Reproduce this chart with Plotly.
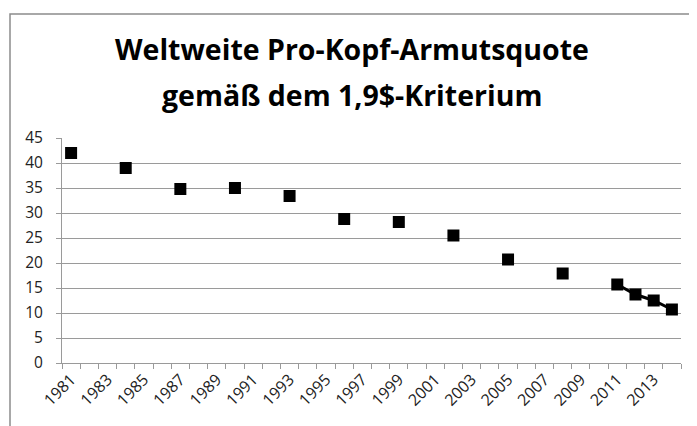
import plotly.graph_objects as go

years = list(range(1981, 2015))
data_years = [1981, 1984, 1987, 1990, 1993, 1996, 1999, 2002, 2005, 2008, 2011, 2012, 2013, 2014]
data_vals = [42.0, 39.0, 34.8, 35.0, 33.4, 28.8, 28.2, 25.5, 20.7, 17.9, 15.7, 13.7, 12.5, 10.7]
tick_years = list(range(1981, 2014, 2))
y_ticks = list(range(0, 46, 5))
title_lines = ["Weltweite Pro-Kopf-Armutsquote", "gemäß dem 1,9$-Kriterium"]

lookup = dict(zip(data_years, data_vals))
y_full = [lookup.get(yr) for yr in years]

fig = go.Figure()
fig.add_trace(go.Scatter(
    x=years, y=y_full, mode="lines+markers", connectgaps=False,
    line=dict(color="black", width=3),
    marker=dict(symbol="square", size=12, color="black"),
    showlegend=False, hoverinfo="x+y",
))

font_family = "Open Sans, Lato, sans-serif"
OFF = 8  # page offset of the figure
L, T = 62 - OFF, 138 - OFF
R = 697 - (681 - OFF)
B = 426 - (363 - OFF)
H_PLOT = 426 - T - B
W_PLOT = 697 - L - R
fig.update_layout(
    width=697, height=426,
    margin=dict(l=L, r=R, t=T, b=B, autoexpand=False),
    paper_bgcolor="white", plot_bgcolor="white",
    xaxis=dict(range=[1980.5, 2014.5], tickmode="array", tickvals=tick_years,
               ticktext=[str(t) for t in tick_years], tickangle=-45,
               automargin=False,
               showgrid=False, zeroline=False, showline=True, linecolor="#9a9a9a",
               linewidth=1, ticks="",
               minor=dict(ticks="outside", tick0=1980.5, dtick=1, ticklen=5,
                          tickcolor="#9a9a9a", showgrid=False),
               tickfont=dict(family=font_family, size=16, color="#222")),
    yaxis=dict(range=[0, 45], tickmode="array", tickvals=y_ticks,
               automargin=False, ticklabelstandoff=10,
               showgrid=True, gridcolor="#9a9a9a", gridwidth=1,
               zeroline=False, showline=True, linecolor="#9a9a9a", linewidth=1,
               ticks="outside", ticklen=5, tickcolor="#9a9a9a",
               tickfont=dict(family=font_family, size=15.5, color="#222")),
)

for line, ypix in zip(title_lines, [49, 95]):
    fig.add_annotation(text="<b>" + line + "</b>", xref="paper", yref="paper",
                       x=(352 - 62) / W_PLOT, y=(363 - ypix) / H_PLOT,
                       xanchor="center", yanchor="middle", showarrow=False,
                       font=dict(family=font_family, size=28.5, color="black"))

fig.add_shape(type="rect", xref="paper", yref="paper",
              x0=(10 - 62) / W_PLOT, x1=1.5, y0=-0.6, y1=(363 - 14) / H_PLOT,
              line=dict(color="#8c8c8c", width=1.5), fillcolor="rgba(0,0,0,0)",
              layer="below")

fig.write_html("out.html")
